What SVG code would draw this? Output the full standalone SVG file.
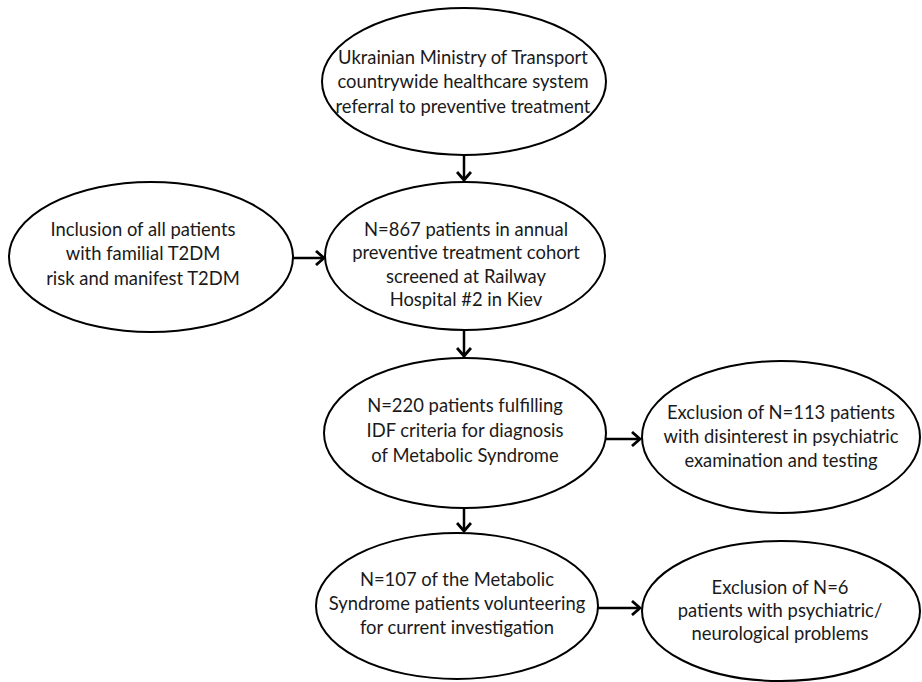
<svg xmlns="http://www.w3.org/2000/svg" width="922" height="682" viewBox="0 0 922 682">
<defs>
<style>
.node ellipse{fill:#fff;stroke:#000;stroke-width:2}
.node text{font-family:Lato,"Liberation Sans",sans-serif;font-size:18.4px;fill:#1a1a1a;text-anchor:middle}
.conn line{stroke:#000;stroke-width:2.5;fill:none}
</style>
<marker id="arr" markerUnits="userSpaceOnUse" markerWidth="14" markerHeight="16" refX="9" refY="8" orient="auto">
<path d="M1,1 L9,8 L1,15" fill="none" stroke="#000" stroke-width="2.8"/>
</marker>
</defs>
<rect width="922" height="682" fill="#fff"/>
<g class="conn">
<line x1="464" y1="155" x2="464" y2="180" marker-end="url(#arr)"/>
<line x1="293" y1="258" x2="324" y2="258" marker-end="url(#arr)"/>
<line x1="464" y1="330" x2="464" y2="356" marker-end="url(#arr)"/>
<line x1="606" y1="439" x2="640" y2="439" marker-end="url(#arr)"/>
<line x1="464" y1="508" x2="464" y2="531" marker-end="url(#arr)"/>
<line x1="598" y1="608" x2="640" y2="608" marker-end="url(#arr)"/>
</g>
<g id="n1" class="node">
<ellipse cx="464" cy="81.5" rx="142" ry="73.5"/>
<text x="463" y="64">Ukrainian Ministry of Transport</text>
<text x="463" y="88">countrywide healthcare system</text>
<text x="463" y="113">referral to preventive treatment</text>
</g>
<g id="n2" class="node">
<ellipse cx="151" cy="257" rx="142" ry="75"/>
<text x="143" y="236">Inclusion of all patients</text>
<text x="143" y="260">with familial T2DM</text>
<text x="143" y="285">risk and manifest T2DM</text>
</g>
<g id="n3" class="node">
<ellipse cx="465" cy="256" rx="140" ry="74"/>
<text x="466" y="236">N=867 patients in annual</text>
<text x="466" y="259">preventive treatment cohort</text>
<text x="466" y="283">screened at Railway</text>
<text x="466" y="306">Hospital #2 in Kiev</text>
</g>
<g id="n4" class="node">
<ellipse cx="465" cy="433" rx="141" ry="75"/>
<text x="465" y="412">N=220 patients fulfilling</text>
<text x="465" y="437">IDF criteria for diagnosis</text>
<text x="465" y="462">of Metabolic Syndrome</text>
</g>
<g id="n5" class="node">
<ellipse cx="781" cy="437" rx="139" ry="76"/>
<text x="781" y="419">Exclusion of N=113 patients</text>
<text x="781" y="443">with disinterest in psychiatric</text>
<text x="781" y="467">examination and testing</text>
</g>
<g id="n6" class="node">
<ellipse cx="457" cy="606" rx="141" ry="73"/>
<text x="457" y="586">N=107 of the Metabolic</text>
<text x="457" y="610">Syndrome patients volunteering</text>
<text x="457" y="634">for current investigation</text>
</g>
<g id="n7" class="node">
<ellipse cx="781" cy="611" rx="139" ry="70"/>
<text x="780" y="594">Exclusion of N=6</text>
<text x="780" y="617">patients with psychiatric/</text>
<text x="780" y="640">neurological problems</text>
</g>
</svg>
